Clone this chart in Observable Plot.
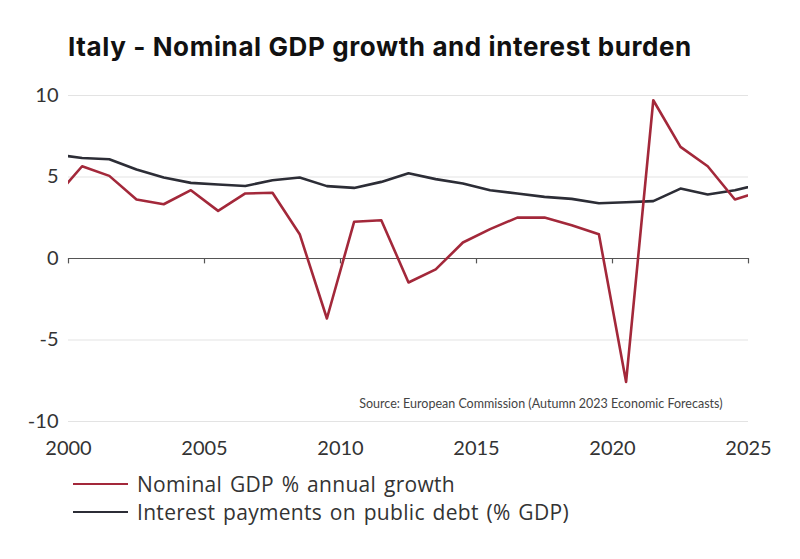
<!DOCTYPE html>
<html>
<head>
<meta charset="utf-8">
<script src="https://cdn.jsdelivr.net/npm/d3@7"></script>
<script src="https://cdn.jsdelivr.net/npm/@observablehq/plot@0.6"></script>
<style>
  html, body { margin: 0; padding: 0; background: #fff; }
  body { width: 800px; height: 559px; overflow: hidden; font-family: Lato, "Noto Sans", sans-serif; }
  #title { height: 70px; position: relative; }
  #title span { position: absolute; left: 68px; top: 31px; font-family: Inter, "Open Sans", sans-serif; font-weight: 700; font-size: 26px; color: #111; letter-spacing: 0.6px; white-space: nowrap; line-height: 32px; }
  #legend { position: relative; height: 89px; }
  .item { position: absolute; left: 73px; height: 26px; display: flex; align-items: center; }
  .sw { width: 55px; height: 2.5px; margin-right: 9px; }
  .lab { font-family: "Open Sans", sans-serif; font-size: 21px; letter-spacing: 0.3px; word-spacing: 2px; color: #333; white-space: nowrap; }
  svg { display: block; }
</style>
</head>
<body>
<div id="title"><span>Italy - Nominal GDP growth and interest burden</span></div>
<div id="chart"></div>
<div id="legend"></div>
<script>
const years = [1999, 2000, 2001, 2002, 2003, 2004, 2005, 2006, 2007, 2008, 2009, 2010, 2011, 2012, 2013, 2014, 2015, 2016, 2017, 2018, 2019, 2020, 2021, 2022, 2023, 2024, 2025];
const gdpGrowth = [3.74, 5.66, 5.07, 3.62, 3.33, 4.19, 2.92, 3.99, 4.03, 1.49, -3.68, 2.25, 2.35, -1.47, -0.67, 0.98, 1.80, 2.51, 2.51, 2.04, 1.49, -7.57, 9.71, 6.85, 5.66, 3.62, 4.14];
const interestPayments = [6.39, 6.17, 6.09, 5.46, 4.97, 4.64, 4.54, 4.45, 4.80, 4.97, 4.44, 4.33, 4.70, 5.23, 4.87, 4.60, 4.19, 3.99, 3.78, 3.66, 3.39, 3.45, 3.52, 4.29, 3.93, 4.19, 4.59];
const xTicks = [2000, 2005, 2010, 2015, 2020, 2025];
const yTicks = [-10, -5, 0, 5, 10];
const seriesNames = ["Nominal GDP % annual growth", "Interest payments on public debt (% GDP)"];
const seriesColors = ["#a3283a", "#2c2d36"];
const sourceNote = "Source: European Commission (Autumn 2023 Economic Forecasts)";

const gdpData = years.map((year, i) => ({year, value: gdpGrowth[i]}));
const intData = years.map((year, i) => ({year, value: interestPayments[i]}));
const mid = d => d.year + 0.5;

const chart = Plot.plot({
  width: 800,
  height: 400,
  marginLeft: 68,
  marginRight: 52,
  marginTop: 25,
  marginBottom: 49,
  style: {fontFamily: "Lato, 'Noto Sans', sans-serif", background: "#fff", color: "#333"},
  x: {domain: [2000, 2025]},
  y: {domain: [-10, 10]},
  marks: [
    Plot.gridY(yTicks.filter(t => t !== 0), {stroke: "#e3e3e3", strokeOpacity: 1, strokeWidth: 1}),
    Plot.axisY(yTicks, {tickSize: 0, tickPadding: 10, fontSize: 20, label: null, fill: "#333", tickFormat: d => String(d)}),
    Plot.axisX(xTicks, {tickSize: 0, tickPadding: 19, fontSize: 20, label: null, tickFormat: d => String(d), fill: "#333"}),
    Plot.ruleY([0], {stroke: "#555", strokeWidth: 1.2}),
    Plot.ruleX(xTicks, {x: d => d, y1: 0, y2: -0.33, stroke: "#555", strokeWidth: 1.2}),
    Plot.lineY(intData, {x: mid, y: "value", stroke: seriesColors[1], strokeWidth: 2.6, clip: true}),
    Plot.lineY(gdpData, {x: mid, y: "value", stroke: seriesColors[0], strokeWidth: 2.6, clip: true}),
    Plot.text([sourceNote], {text: d => d, frameAnchor: "bottom-right", dx: -26, dy: -14, fontSize: 12.5, fill: "#444"})
  ]
});
document.getElementById("chart").appendChild(chart);

const legend = document.getElementById("legend");
seriesNames.forEach((name, i) => {
  const item = document.createElement("div");
  item.className = "item";
  item.style.top = (1 + i * 28) + "px";
  item.innerHTML = `<div class="sw" style="background:${seriesColors[i]}"></div><span class="lab">${name}</span>`;
  legend.appendChild(item);
});
</script>
</body>
</html>
